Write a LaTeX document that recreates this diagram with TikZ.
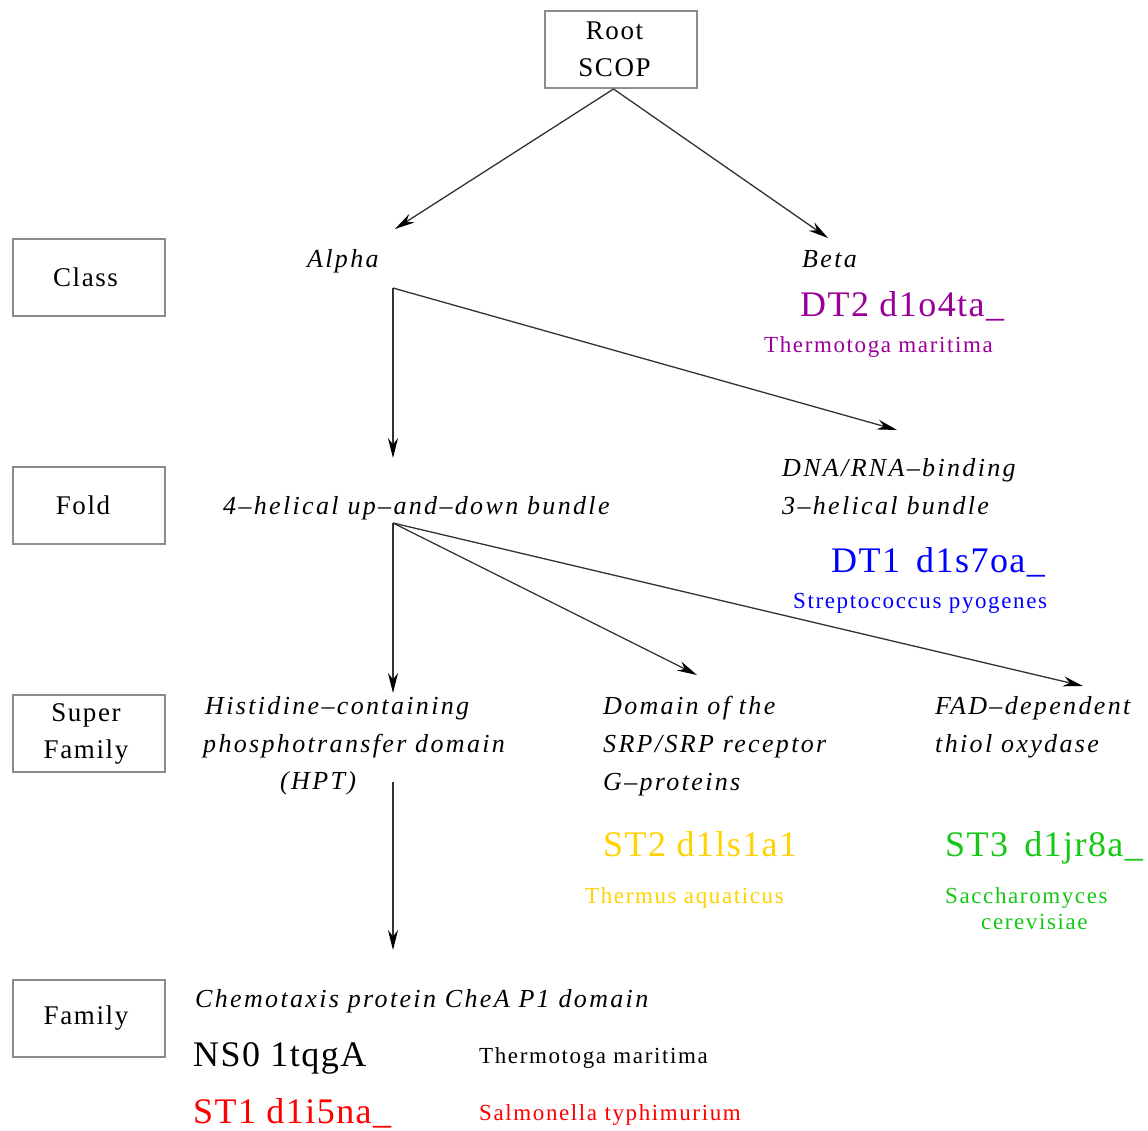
\documentclass[tikz,border=0pt]{standalone}
\usepackage{fontspec}
\setmainfont{Liberation Serif}
\newfontfamily\rmsp[LetterSpace=6]{Liberation Serif}
\newfontfamily\idsp[LetterSpace=4]{Liberation Serif}
\newfontfamily\spsp[LetterSpace=7]{Liberation Serif}
\newfontfamily\itsp[LetterSpace=9]{Liberation Serif}
\usetikzlibrary{arrows.meta}
\definecolor{boxgray}{RGB}{140,140,140}
\definecolor{linegray}{RGB}{50,50,50}
\definecolor{cpurple}{RGB}{153,0,153}
\definecolor{cblue}{RGB}{0,0,255}
\definecolor{cgold}{RGB}{255,210,0}
\definecolor{cgreen}{RGB}{20,200,20}
\definecolor{cred}{RGB}{255,0,0}
\begin{document}
\begin{tikzpicture}[x=1pt,y=-1pt,
  levelbox/.style={draw=boxgray,line width=2pt,minimum width=152pt,minimum height=77pt,inner sep=0pt,align=center,font=\rmsp\fontsize{27}{37}\selectfont},
  taxon/.style={font=\itsp\itshape\fontsize{26}{38}\selectfont,inner sep=0pt,anchor=base west},
  pid/.style={font=\idsp\fontsize{36}{40}\selectfont,inner sep=0pt,anchor=base west},
  species/.style={font=\spsp\fontsize{23}{26}\selectfont,inner sep=0pt,anchor=base west},
  conn/.style={draw=linegray,line width=1.3pt,-{Stealth[length=20pt,width=10pt,color=black]}}]
\fill[white] (0,0) rectangle (1148,1130);
\useasboundingbox (0,0) rectangle (1148,1130);

% level boxes
\node[levelbox] (root) at (620.5,49.5) {\hspace*{-12pt}Root\\\hspace*{-12pt}SCOP};
\node[levelbox] (class) at (89,277.5) {\hspace*{-7pt}Class};
\node[levelbox] (fold) at (89,505.5) {\hspace*{-12pt}Fold};
\node[levelbox] (super) at (89,733.5) {\hspace*{-6pt}Super\\\hspace*{-6pt}Family};
\node[levelbox] (family) at (89,1018) {\hspace*{-6pt}Family};

% class level
\node[taxon] (alpha) at (307,267) {Alpha};
\node[taxon] (beta) at (802,267) {Beta};
\node[pid,text=cpurple] (dt2) at (800,316) {DT2 d1o4ta\_};
\node[species,text=cpurple] (dt2sp) at (764,352) {Thermotoga maritima};

% fold level
\node[taxon] (helical) at (223,514) {4–helical up–and–down bundle};
\node[taxon] (dna1) at (782,476) {DNA/RNA–binding};
\node[taxon] (dna2) at (782,514) {3–helical bundle};
\node[pid,text=cblue] (dt1) at (831,572) {DT1\hspace{0.45em}d1s7oa\_};
\node[species,text=cblue] (dt1sp) at (793,608) {Streptococcus pyogenes};

% superfamily level
\node[taxon] (hpt1) at (205,714) {Histidine–containing};
\node[taxon] (hpt2) at (203,752) {phosphotransfer domain};
\node[taxon] (hpt3) at (280,789) {(HPT)};
\node[taxon] (srp1) at (603,714) {Domain of the};
\node[taxon] (srp2) at (603,752) {SRP/SRP receptor};
\node[taxon] (srp3) at (603,790) {G–proteins};
\node[taxon] (fad1) at (935,714) {FAD–dependent};
\node[taxon] (fad2) at (935,752) {thiol oxydase};
\node[pid,text=cgold] (st2) at (603,856) {ST2 d1ls1a1};
\node[species,text=cgold] (st2sp) at (585,903) {Thermus aquaticus};
\node[pid,text=cgreen] (st3) at (945,856) {ST3\hspace{0.45em}d1jr8a\_};
\node[species,text=cgreen] (st3sp1) at (945,903) {Saccharomyces};
\node[species,text=cgreen] (st3sp2) at (981,929) {cerevisiae};

% family level
\node[taxon] (chemo) at (195,1007) {Chemotaxis protein CheA P1 domain};
\node[pid] (ns0) at (193,1066) {NS0 1tqgA};
\node[species] (ns0sp) at (479,1063) {Thermotoga maritima};
\node[pid,text=cred] (st1) at (193,1123) {ST1 d1i5na\_};
\node[species,text=cred] (st1sp) at (479,1120) {Salmonella typhimurium};

% connector end points
\coordinate (alphaIn) at (395,229);
\coordinate (betaIn) at (828,238);
\coordinate (alphaOut) at (393,288);
\coordinate (foldIn) at (393,458);
\coordinate (dnaIn) at (897,430);
\coordinate (foldOut) at (393,523);
\coordinate (hptIn) at (393,693);
\coordinate (srpIn) at (697,675);
\coordinate (fadIn) at (1083,686);
\coordinate (hptOut) at (393,782);
\coordinate (famIn) at (393,950);

\draw[conn] ([xshift=-7pt]root.south) -- (alphaIn);
\draw[conn] ([xshift=-7pt]root.south) -- (betaIn);
\draw[conn] (alphaOut) -- (foldIn);
\draw[conn] (alphaOut) -- (dnaIn);
\draw[conn] (foldOut) -- (hptIn);
\draw[conn] (foldOut) -- (srpIn);
\draw[conn] (foldOut) -- (fadIn);
\draw[conn] (hptOut) -- (famIn);
\end{tikzpicture}
\end{document}
